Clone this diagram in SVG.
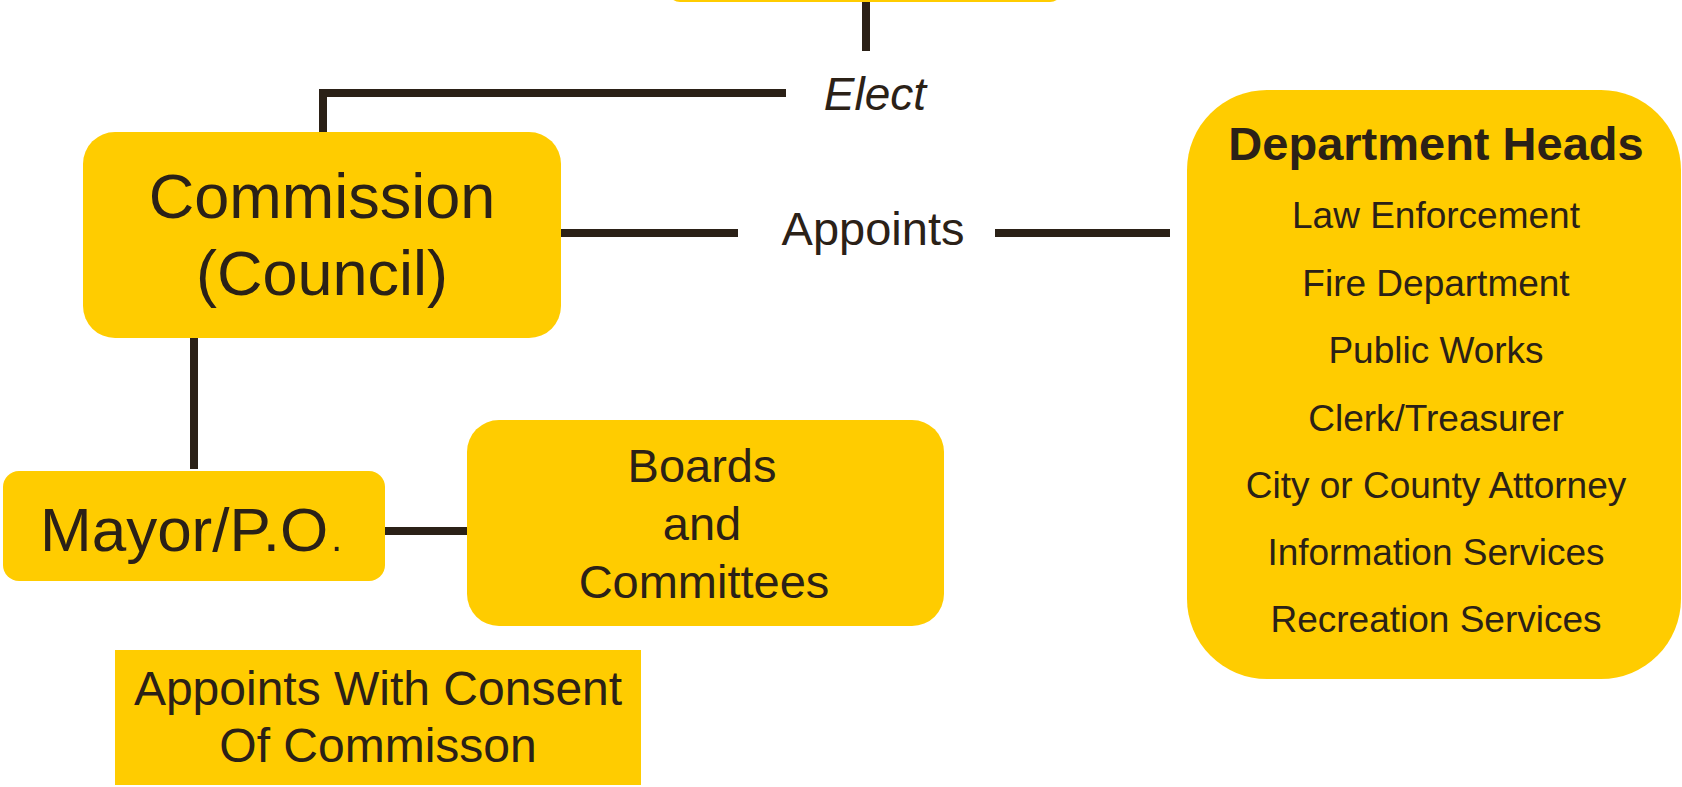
<svg xmlns="http://www.w3.org/2000/svg" width="1682" height="787" viewBox="0 0 1682 787">
<style>
.box{fill:#FFCC00}
.t{font-family:"Liberation Sans",Arial,sans-serif;fill:#2B2117;text-anchor:middle}
.ln{stroke:#2B2117;stroke-width:8;fill:none}
</style>
<rect x="0" y="0" width="1682" height="787" fill="#FFFFFF"/>
<g id="connectors">
<line class="ln" x1="866" y1="2" x2="866" y2="51"/>
<polyline class="ln" points="323,132 323,93 786,93"/>
<line class="ln" x1="561" y1="233" x2="738" y2="233"/>
<line class="ln" x1="995" y1="233" x2="1170" y2="233"/>
<line class="ln" x1="194" y1="338" x2="194" y2="469"/>
<line class="ln" x1="385" y1="531" x2="467" y2="531"/>
<text class="t" x="875" y="110" font-size="46" font-style="italic">Elect</text>
<text class="t" x="873" y="245" font-size="47">Appoints</text>
</g>
<g id="top">
<rect class="box" x="668" y="-60" width="394" height="62" rx="12"/>
</g>
<g id="commission">
<rect class="box" x="83" y="132" width="478" height="206" rx="32"/>
<text class="t" x="322" y="218" font-size="63">Commission</text>
<text class="t" x="322" y="295" font-size="63">(Council)</text>
</g>
<g id="department-heads">
<rect class="box" x="1187" y="90" width="494" height="589" rx="80"/>
<text class="t" x="1436" y="160" font-size="47" font-weight="bold">Department Heads</text>
<text class="t" x="1436" y="228" font-size="37">Law Enforcement</text>
<text class="t" x="1436" y="295.5" font-size="37">Fire Department</text>
<text class="t" x="1436" y="363" font-size="37">Public Works</text>
<text class="t" x="1436" y="430.5" font-size="37">Clerk/Treasurer</text>
<text class="t" x="1436" y="498" font-size="37">City or County Attorney</text>
<text class="t" x="1436" y="565" font-size="37">Information Services</text>
<text class="t" x="1436" y="632" font-size="37">Recreation Services</text>
</g>
<g id="mayor">
<rect class="box" x="3" y="471" width="382" height="110" rx="16"/>
<text class="t" x="40" y="551" font-size="62" style="text-anchor:start">Mayor/P.O<tspan dx="3" font-size="38">.</tspan></text>
</g>
<g id="boards">
<rect class="box" x="467" y="420" width="477" height="206" rx="32"/>
<text class="t" x="702" y="482" font-size="47">Boards</text>
<text class="t" x="702" y="540" font-size="47">and</text>
<text class="t" x="704" y="598" font-size="47">Committees</text>
</g>
<g id="consent">
<rect class="box" x="115" y="650" width="526" height="135"/>
<text class="t" x="378" y="705" font-size="48">Appoints With Consent</text>
<text class="t" x="378" y="762" font-size="48">Of Commisson</text>
</g>
</svg>
